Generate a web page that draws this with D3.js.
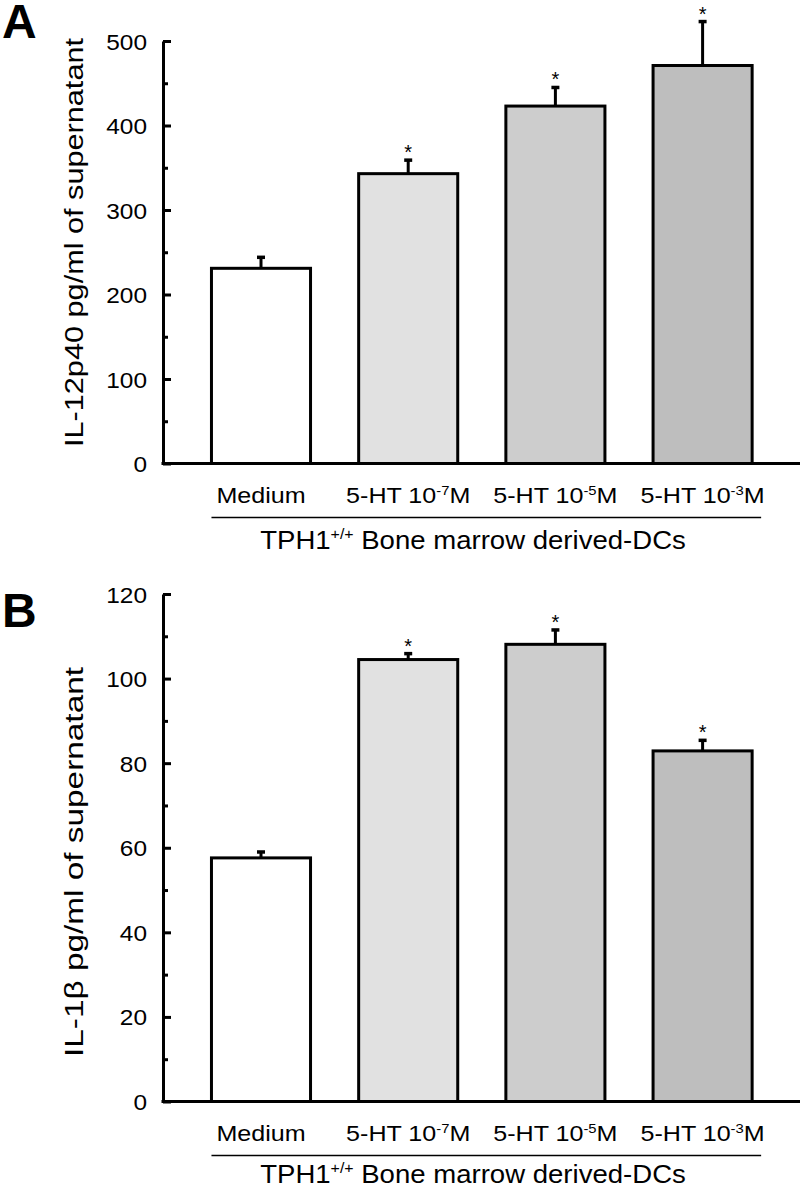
<!DOCTYPE html>
<html>
<head>
<meta charset="utf-8">
<script src="https://cdn.jsdelivr.net/npm/d3@7/dist/d3.min.js"></script>
<style>
  body { margin: 0; background: #fff; }
  text { font-family: "Liberation Sans", Arial, Helvetica, sans-serif; fill: #000; }
</style>
</head>
<body>
<svg id="chart" width="800" height="1188"></svg>
<script>
// categories (base text + superscript exponent + unit)
var categories = ["Medium", "5-HT 10-7M", "5-HT 10-5M", "5-HT 10-3M"];
var catBase = ["Medium", "5-HT 10", "5-HT 10", "5-HT 10"];
var catExp = ["", "-7", "-5", "-3"];
var catUnit = ["", "M", "M", "M"];
var barFills = ["#ffffff", "#e1e1e1", "#cdcdcd", "#bebebe"];

// panel A : IL-12p40
var il12Means = [231, 343, 423, 471];
var il12Errors = [13, 16, 22, 52];
var il12Stars = [false, true, true, true];
var il12Ticks = [0, 100, 200, 300, 400, 500];
var il12Minor = [50, 150, 250, 350, 450];

// panel B : IL-1beta
var il1bMeans = [57.6, 104.5, 108.1, 82.9];
var il1bErrors = [1.4, 1.4, 3.4, 2.5];
var il1bStars = [false, true, true, true];
var il1bTicks = [0, 20, 40, 60, 80, 100, 120];
var il1bMinor = [10, 30, 50, 70, 90, 110];

var svg = d3.select("#chart");

//shared x scale for both panels
var x = d3.scaleBand()
  .domain(categories)
  .range([187.4, 776.2])
  .paddingInner(0.327)
  .paddingOuter(0.1635);

var axisX = 163;

//text in the figure is drawn a bit wider than normal, so stretch along the reading direction
function stretched(parent, tx, ty, sx, anchor, rot) {
  var tr = "translate(" + tx + "," + ty + ")" + (rot ? " rotate(" + rot + ")" : "") + " scale(" + sx + ",1)";
  return parent.append("text")
    .attr("transform", tr)
    .attr("text-anchor", anchor);
}

var panels = [
  {letter: "A", letterY: 38, means: il12Means, errors: il12Errors, stars: il12Stars,
   ticks: il12Ticks, minor: il12Minor, top: 41, bottom: 463.5, groupDy: 85,
   ylabel: "IL-12p40 pg/ml of supernatant", ylabelY: 242.5, ylabelLen: 409},
  {letter: "B", letterY: 627, means: il1bMeans, errors: il1bErrors, stars: il1bStars,
   ticks: il1bTicks, minor: il1bMinor, top: 594, bottom: 1101.5, groupDy: 81,
   ylabel: "IL-1\u03b2 pg/ml of supernatant", ylabelY: 862, ylabelLen: 390}
];

panels.forEach(function(p) {
  var maxV = p.ticks[p.ticks.length - 1];
  var y = d3.scaleLinear().domain([0, maxV]).range([p.bottom, p.top]);
  var g = svg.append("g");

  var rows = p.means.map(function(m, i) {
    return {cat: categories[i], mean: m, err: p.errors[i], star: p.stars[i], fill: barFills[i]};
  });
  var cx = function(d) { return x(d.cat) + x.bandwidth() / 2; };

  //panel letter
  g.append("text")
    .attr("x", 2)
    .attr("y", p.letterY)
    .attr("font-size", 48)
    .attr("font-weight", "bold")
    .text(p.letter);

  //bars
  g.selectAll("rect.bar")
    .data(rows)
    .enter().append("rect")
    .attr("class", "bar")
    .attr("x", function(d) { return x(d.cat); })
    .attr("y", function(d) { return y(d.mean); })
    .attr("width", x.bandwidth())
    .attr("height", function(d) { return y(0) - y(d.mean); })
    .attr("fill", function(d) { return d.fill; })
    .attr("stroke", "#000")
    .attr("stroke-width", 3);

  //error bars (upper half only)
  g.selectAll("line.err")
    .data(rows)
    .enter().append("line")
    .attr("class", "err")
    .attr("x1", cx)
    .attr("x2", cx)
    .attr("y1", function(d) { return y(d.mean); })
    .attr("y2", function(d) { return y(d.mean + d.err); })
    .attr("stroke", "#000")
    .attr("stroke-width", 3);

  g.selectAll("line.cap")
    .data(rows)
    .enter().append("line")
    .attr("class", "cap")
    .attr("x1", function(d) { return cx(d) - 4; })
    .attr("x2", function(d) { return cx(d) + 4; })
    .attr("y1", function(d) { return y(d.mean + d.err); })
    .attr("y2", function(d) { return y(d.mean + d.err); })
    .attr("stroke", "#000")
    .attr("stroke-width", 3.5);

  //significance stars
  g.selectAll("text.star")
    .data(rows.filter(function(d) { return d.star; }))
    .enter().append("text")
    .attr("class", "star")
    .attr("x", cx)
    .attr("y", function(d) { return y(d.mean + d.err) - 1; })
    .attr("text-anchor", "middle")
    .attr("font-size", 20)
    .text("*");

  //y axis, ticks pointing inward
  var yAxis = g.append("g")
    .attr("transform", "translate(" + axisX + ",0)")
    .call(d3.axisLeft(y).tickValues(p.ticks).tickSizeInner(-8).tickSizeOuter(0).tickFormat(""));
  yAxis.selectAll("path, line").attr("stroke", "#000").attr("stroke-width", 3);

  var yMinor = g.append("g")
    .attr("transform", "translate(" + axisX + ",0)")
    .call(d3.axisLeft(y).tickValues(p.minor).tickSizeInner(-5).tickSizeOuter(0).tickFormat(""));
  yMinor.select(".domain").remove();
  yMinor.selectAll("line").attr("stroke", "#000").attr("stroke-width", 3);

  //tick labels
  p.ticks.forEach(function(t) {
    stretched(g, 147, y(t) + 8.5, 1.11, "end")
      .attr("font-size", 22)
      .text(t);
  });

  //x axis baseline
  g.append("line")
    .attr("x1", axisX - 1.5)
    .attr("x2", 800)
    .attr("y1", y(0))
    .attr("y2", y(0))
    .attr("stroke", "#000")
    .attr("stroke-width", 3);

  //category labels with superscript exponent
  rows.forEach(function(d, i) {
    var t = stretched(g, cx(d), y(0) + 39, 1.14, "middle", 0).attr("font-size", 22);
    t.append("tspan").text(catBase[i]);
    if (catExp[i]) {
      t.append("tspan").attr("font-size", 13).attr("dy", -8).text(catExp[i]);
      t.append("tspan").attr("dy", 8).text(catUnit[i]);
    }
  });

  //group bracket line and label
  g.append("line")
    .attr("x1", x(categories[0]))
    .attr("x2", x(categories[3]) + x.bandwidth() + 9)
    .attr("y1", y(0) + 54)
    .attr("y2", y(0) + 54)
    .attr("stroke", "#000")
    .attr("stroke-width", 1.5);

  var grp = stretched(g, 473, y(0) + p.groupDy, 1.06, "middle", 0).attr("font-size", 26);
  grp.append("tspan").text("TPH1");
  grp.append("tspan").attr("font-size", 15).attr("dy", -10).text("+/+");
  grp.append("tspan").attr("dy", 10).text(" Bone marrow derived-DCs");

  //y axis title, fitted to the length it has in the figure
  g.append("text")
    .attr("transform", "translate(83," + p.ylabelY + ") rotate(-90)")
    .attr("text-anchor", "middle")
    .attr("font-size", 25)
    .attr("textLength", p.ylabelLen)
    .attr("lengthAdjust", "spacingAndGlyphs")
    .text(p.ylabel);
});
</script>
</body>
</html>
